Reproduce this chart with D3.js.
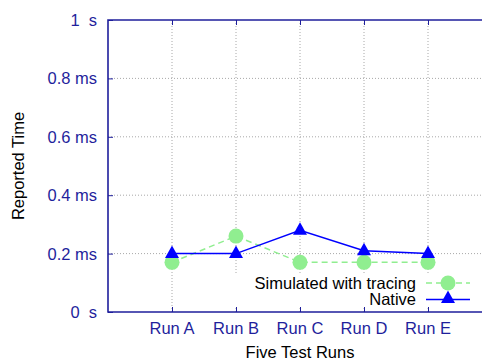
<!DOCTYPE html>
<html><head><meta charset="utf-8">
<script src="https://cdn.jsdelivr.net/npm/d3@7"></script>
<style>body{margin:0;background:#fff}svg{display:block}text{font-family:"Liberation Sans",Arial,sans-serif}</style>
</head><body>
<svg id="c" width="482" height="360"></svg>
<script>
const categories = ["Run A","Run B","Run C","Run D","Run E"];
const simulated = [0.17,0.26,0.17,0.17,0.17];
const native = [0.20,0.20,0.28,0.21,0.20];
const yTicks = [0,0.2,0.4,0.6,0.8,1];
const yTickLabels = ["0  s","0.2 ms","0.4 ms","0.6 ms","0.8 ms","1  s"];
const seriesNames = ["Simulated with tracing","Native"];

const svg = d3.select("#c");
const L=108, R=492, T=20, B=312;
const axisColor = "#1f1f9c";
const fs = "16.5px";
const x = d3.scaleLinear().domain([0,6]).range([L,R]);
const y = d3.scaleLinear().domain([0,1]).range([B,T]);
const xi = categories.map((c,i)=>i+1);

// grid
const g = svg.append("g");
yTicks.slice(1,-1).forEach(v=>{
  g.append("line").attr("x1",L).attr("x2",R).attr("y1",y(v)).attr("y2",y(v))
   .attr("stroke","#a8a8a8").attr("stroke-width",1).attr("stroke-dasharray","1,2");
});
xi.forEach(v=>{
  g.append("line").attr("x1",x(v)).attr("x2",x(v)).attr("y1",T).attr("y2",B)
   .attr("stroke","#a8a8a8").attr("stroke-width",1).attr("stroke-dasharray","1,2");
});

// legend background (covers grid)
svg.append("rect").attr("x",226).attr("y",274).attr("width",250).attr("height",33).attr("fill","#fff");

// axes with inward ticks
const yAxisL = d3.axisRight(y).tickValues(yTicks).tickSize(5).tickFormat("");
svg.append("g").attr("transform",`translate(${L},0)`).call(yAxisL)
  .call(s=>{s.select(".domain").remove(); s.selectAll("line").attr("stroke",axisColor);});
const xAxisB = d3.axisTop(x).tickValues(xi).tickSize(5).tickFormat("");
svg.append("g").attr("transform",`translate(0,${B})`).call(xAxisB)
  .call(s=>{s.select(".domain").remove(); s.selectAll("line").attr("stroke",axisColor);});
const xAxisT = d3.axisBottom(x).tickValues(xi).tickSize(5).tickFormat("");
svg.append("g").attr("transform",`translate(0,${T})`).call(xAxisT)
  .call(s=>{s.select(".domain").remove(); s.selectAll("line").attr("stroke",axisColor);});

// border
svg.append("path").attr("d",`M${R},${T}H${L}V${B}H${R}`).attr("fill","none")
  .attr("stroke",axisColor).attr("stroke-width",1.6);

// tick labels
yTicks.forEach((v,i)=>{
  svg.append("text").attr("x",97).attr("y",y(v)).attr("dy","0.36em")
    .attr("text-anchor","end").attr("fill",axisColor).style("font-size",fs)
    .style("white-space","pre").text(yTickLabels[i]);
});
categories.forEach((c,i)=>{
  svg.append("text").attr("x",x(i+1)).attr("y",334).attr("text-anchor","middle")
    .attr("fill",axisColor).style("font-size",fs).text(c);
});

// axis titles
svg.append("text").attr("x",300).attr("y",358).attr("text-anchor","middle")
  .attr("fill","#000").style("font-size",fs).text("Five Test Runs");
svg.append("text").attr("transform",`translate(24,166) rotate(-90)`).attr("text-anchor","middle")
  .attr("fill","#000").style("font-size",fs).text("Reported Time");

const green="#90ee90", blue="#0000ff";
const tri = (cx,cy)=>`M${cx},${cy-8}L${cx+7},${cy+4.5}L${cx-7},${cy+4.5}Z`;

// series
const line = d3.line().x((d,i)=>x(i+1)).y(d=>y(d));
svg.append("path").datum(simulated).attr("d",line).attr("fill","none")
  .attr("stroke",green).attr("stroke-width",1.5).attr("stroke-dasharray","6,4");
simulated.forEach((v,i)=>svg.append("circle").attr("cx",x(i+1)).attr("cy",y(v)).attr("r",7.5).attr("fill",green));
svg.append("path").datum(native).attr("d",line).attr("fill","none")
  .attr("stroke",blue).attr("stroke-width",1.5);
native.forEach((v,i)=>svg.append("path").attr("d",tri(x(i+1),y(v))).attr("fill",blue));

// legend
const ly1=283, ly2=299.5;
svg.append("text").attr("x",416).attr("y",ly1).attr("dy","0.35em").attr("text-anchor","end")
  .attr("fill","#000").style("font-size",fs).text(seriesNames[0]);
svg.append("line").attr("x1",426).attr("x2",470).attr("y1",ly1).attr("y2",ly1)
  .attr("stroke",green).attr("stroke-width",1.5).attr("stroke-dasharray","6,4");
svg.append("circle").attr("cx",448).attr("cy",ly1).attr("r",7.5).attr("fill",green);
svg.append("text").attr("x",416).attr("y",ly2).attr("dy","0.35em").attr("text-anchor","end")
  .attr("fill","#000").style("font-size",fs).text(seriesNames[1]);
svg.append("line").attr("x1",426).attr("x2",470).attr("y1",ly2).attr("y2",ly2)
  .attr("stroke",blue).attr("stroke-width",1.5);
svg.append("path").attr("d",tri(448,ly2-1)).attr("fill",blue);
</script>
</body></html>
